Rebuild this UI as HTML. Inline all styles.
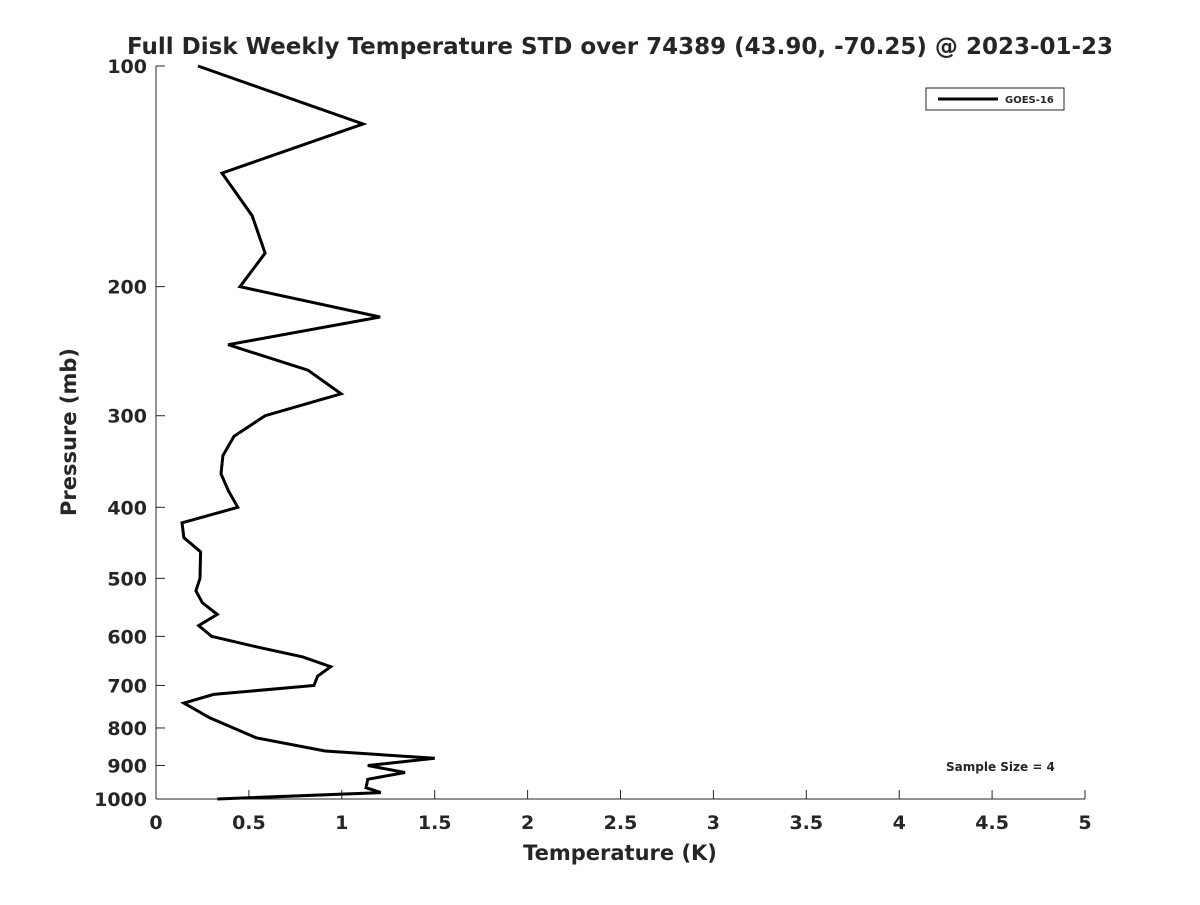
<!DOCTYPE html>
<html><head><meta charset="utf-8"><style>
body{margin:0;background:#fff;}
svg text{font-family:"DejaVu Sans","Liberation Sans",sans-serif;font-weight:bold;fill:#262626;}
</style></head><body>
<svg id="chart" width="1200" height="900" xmlns="http://www.w3.org/2000/svg">
<rect width="1200" height="900" fill="#fff"/>
<text x="620" y="54" text-anchor="middle" font-size="23" fill="#000">Full Disk Weekly Temperature STD over 74389 (43.90, -70.25) @ 2023-01-23</text>
<g id="axes"></g>
<polyline id="series" fill="none" stroke="#000" stroke-width="3" stroke-linejoin="miter"/>
<g>
<rect x="926" y="88" width="138" height="22" fill="#fff" stroke="#262626" stroke-width="1"/>
<line x1="938" y1="99" x2="998" y2="99" stroke="#000" stroke-width="3"/>
<text x="1005" y="103" font-size="10" fill="#000">GOES-16</text>
</g>
<text x="946" y="771" font-size="12" fill="#000">Sample Size = 4</text>
<text x="620" y="860" text-anchor="middle" font-size="21">Temperature (K)</text>
<text transform="translate(76,432) rotate(-90)" text-anchor="middle" font-size="21">Pressure (mb)</text>
</svg>
<script>
const pressures=[100,120,140,160,180,200,220,240,260,280,300,320,340,360,380,400,420,440,460,500,520,540,560,580,600,620,640,660,680,700,720,740,775,805,825,860,880,900,920,940,965,980,1000];
const temps=[0.226,1.114,0.355,0.517,0.587,0.452,1.206,0.388,0.818,0.996,0.587,0.42,0.36,0.35,0.39,0.44,0.14,0.15,0.24,0.237,0.215,0.25,0.33,0.23,0.3,0.54,0.79,0.94,0.87,0.85,0.31,0.15,0.29,0.44,0.54,0.91,1.5,1.14,1.34,1.14,1.13,1.21,0.33];
const xTicks=[0,0.5,1,1.5,2,2.5,3,3.5,4,4.5,5];
const xTickLabels=["0","0.5","1","1.5","2","2.5","3","3.5","4","4.5","5"];
const yTicks=[100,200,300,400,500,600,700,800,900,1000];
const X0=156,X1=1085,Y0=66,Y1=799;
function xs(t){return X0+(t-0)/(5-0)*(X1-X0);}
function ys(p){return Y0+Math.log10(p/100)*(Y1-Y0);}
const NS="http://www.w3.org/2000/svg";
const ax=document.getElementById('axes');
function mk(tag,attrs,parent){const e=document.createElementNS(NS,tag);for(const k in attrs)e.setAttribute(k,attrs[k]);parent.appendChild(e);return e;}
const yl=mk('line',{x1:X0,y1:Y0,x2:X0,y2:Y1,stroke:'#262626','stroke-width':1},ax);


const xl=mk('line',{x1:X0,y1:Y1,x2:X1,y2:Y1,stroke:'#262626','stroke-width':1},ax);


xTicks.forEach((t,i)=>{
  const x=xs(t);
  const tk=mk('line',{x1:x,y1:Y1,x2:x,y2:Y1-9,stroke:'#262626','stroke-width':1},ax);
  
  
  const tx=mk('text',{x:x,y:Y1+30,'text-anchor':'middle','font-size':19},ax);
  tx.textContent=xTickLabels[i];
  
  
});
yTicks.forEach(p=>{
  const y=ys(p);
  const tk=mk('line',{x1:X0,y1:y,x2:X0+9,y2:y,stroke:'#262626','stroke-width':1},ax);
  
  
  const tx=mk('text',{x:X0-9,y:y+7,'text-anchor':'end','font-size':19},ax);
  tx.textContent=String(p);
  
  
});
document.getElementById('series').setAttribute('points',pressures.map((p,i)=>xs(temps[i]).toFixed(1)+','+ys(p).toFixed(1)).join(' '));
</script>
</body></html>
